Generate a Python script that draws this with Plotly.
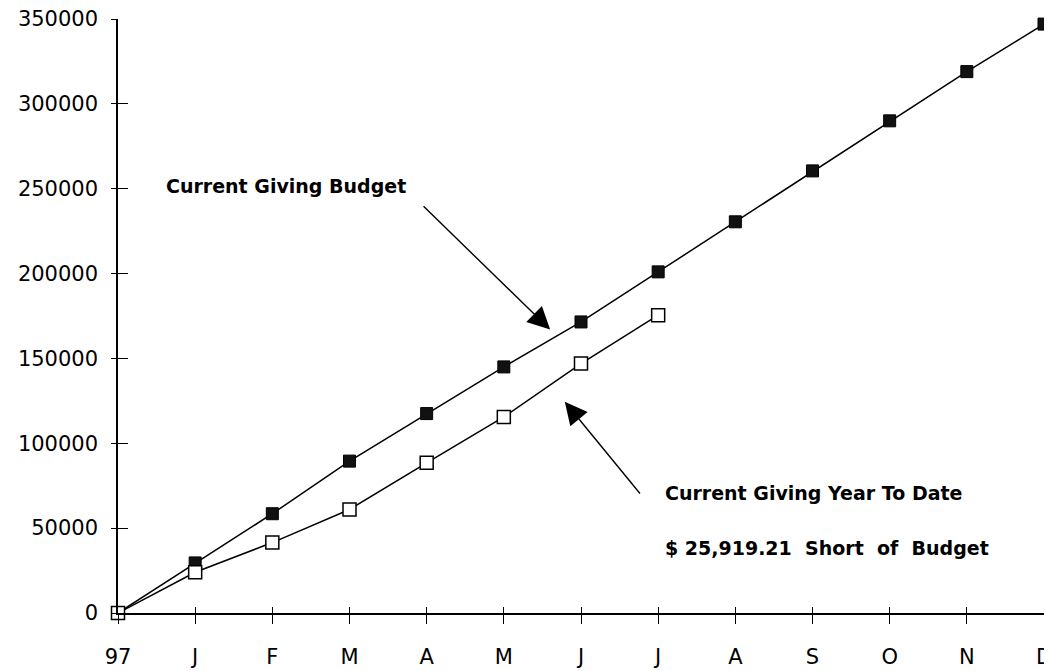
import plotly.graph_objects as go

months = ["97", "J", "F", "M", "A", "M", "J", "J", "A", "S", "O", "N", "D"]
budget = [0, 29500, 58500, 89500, 117500, 145000, 171500, 201000, 230500, 260500, 290000, 319000, 347000]
ytd = [0, 24000, 41500, 61000, 88500, 115500, 147000, 175500]
y_ticks = [0, 50000, 100000, 150000, 200000, 250000, 300000, 350000]

x_idx = list(range(len(months)))

FONT = "DejaVu Sans"

fig = go.Figure()
# budget on the main axes (x, y); ytd on the overlaid pair (x2, y2) with identical
# ranges, so the overlaid axes (carrying the inner half of the crossing ticks) get drawn
fig.add_trace(go.Scatter(
    x=x_idx[:len(budget)], y=budget, mode="lines+markers", xaxis="x", yaxis="y",
    line=dict(color="black", width=1.5),
    marker=dict(symbol="square", size=12, color="#111111", line=dict(color="black", width=1)),
    cliponaxis=False, showlegend=False, name="Current Giving Budget"))
fig.add_trace(go.Scatter(
    x=x_idx[:len(ytd)], y=ytd, mode="lines+markers", xaxis="x2", yaxis="y2",
    line=dict(color="black", width=1.5),
    marker=dict(symbol="square", size=13, color="white", line=dict(color="black", width=1.5)),
    cliponaxis=False, showlegend=False, name="Current Giving Year To Date"))

fig.update_layout(
    width=1044, height=663,
    margin=dict(l=110, r=8, t=11, b=58),
    paper_bgcolor="white", plot_bgcolor="white",
    font=dict(family=FONT, color="black", size=20),
    xaxis=dict(range=[0, 12], tickvals=x_idx, ticktext=months, automargin=False,
               showgrid=False, zeroline=False, showline=True, linecolor="black", linewidth=1.5,
               ticks="outside", ticklen=9, tickwidth=1.2, tickcolor="black",
               tickfont=dict(family=FONT, size=21), ticklabelstandoff=15,
               ticklabeloverflow="allow"),
    yaxis=dict(range=[0, 350000], tickvals=y_ticks, ticktext=[str(v) for v in y_ticks], automargin=False,
               showgrid=False, zeroline=False, showline=True, linecolor="black", linewidth=1.5,
               ticks="outside", ticklen=5, tickwidth=1.2, tickcolor="black",
               tickfont=dict(family=FONT, size=21), ticklabelstandoff=9,
               ticklabeloverflow="allow"),
    xaxis2=dict(overlaying="x", anchor="y2", side="bottom", range=[0, 12], tickvals=x_idx, automargin=False,
                showticklabels=False, showgrid=False, zeroline=False, showline=False,
                ticks="inside", ticklen=6, tickwidth=1.2, tickcolor="black"),
    yaxis2=dict(overlaying="y", anchor="x2", side="left", range=[0, 350000], tickvals=y_ticks, automargin=False,
                showticklabels=False, showgrid=False, zeroline=False, showline=False,
                ticks="inside", ticklen=10, tickwidth=1.2, tickcolor="black"),
)

ann_font = dict(family=FONT, size=19, color="black")
fig.add_annotation(x=0.6, y=251500, xref="x", yref="y", text="<b>Current Giving Budget</b>",
                   showarrow=False, xanchor="left", yanchor="middle", font=ann_font)
fig.add_annotation(x=7.06, y=70500, xref="x", yref="y", text="<b>Current Giving Year To Date</b>",
                   showarrow=False, xanchor="left", yanchor="middle", font=ann_font)
fig.add_annotation(x=7.06, y=38500, xref="x", yref="y", text="<b>$ 25,919.21  Short  of  Budget</b>",
                   showarrow=False, xanchor="left", yanchor="middle", font=ann_font)
# arrows
fig.add_annotation(x=5.6, y=167000, ax=3.94, ay=240500, xref="x", yref="y", axref="x", ayref="y",
                   text="", showarrow=True, arrowhead=2, arrowsize=3.2, arrowwidth=1.4,
                   arrowcolor="black", standoff=0)
fig.add_annotation(x=5.79, y=124500, ax=6.78, ay=69500, xref="x", yref="y", axref="x", ayref="y",
                   text="", showarrow=True, arrowhead=2, arrowsize=3.2, arrowwidth=1.4,
                   arrowcolor="black", standoff=0)

fig.write_html("out.html")
